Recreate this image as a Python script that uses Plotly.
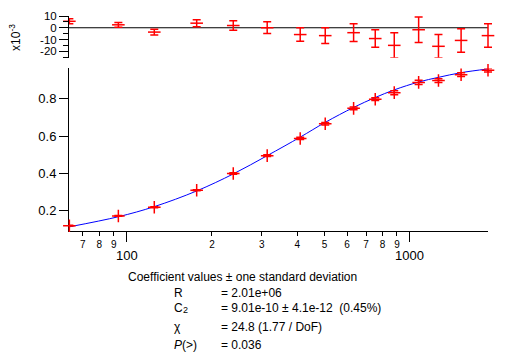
import plotly.graph_objects as go

# ---- data ----
freq = [62.7, 93.4, 125.1, 176.6, 237.8, 313.4, 409.9, 502.4, 632.8, 754.6, 880.8, 1074, 1262, 1517, 1888]
amp = [0.120, 0.172, 0.219, 0.310, 0.399, 0.495, 0.587, 0.666, 0.748, 0.797, 0.832, 0.887, 0.897, 0.928, 0.952]
fit = [0.114, 0.168, 0.222, 0.306, 0.397, 0.495, 0.594, 0.673, 0.753, 0.806, 0.847, 0.889, 0.914, 0.939, 0.959]
resid = [5.5, 2.5, -3.7, 3.9, 1.9, 0.0, -5.8, -6.7, -4.2, -9.2, -15.0, -1.7, -15.8, -10.8, -6.7]   # x10^-3
err = [2.2, 2.0, 2.5, 3.0, 4.0, 5.0, 5.8, 6.7, 7.5, 7.5, 10.8, 10.8, 10.0, 10.0, 10.0]          # x10^-3

minor_vals = [70, 80, 90, 200, 300, 400, 500, 600, 700, 800, 900]
minor_text = ["7", "8", "9", "2", "3", "4", "5", "6", "7", "8", "9"]
major_vals = [100, 1000]
major_text = ["100", "1000"]
main_yticks = [0.2, 0.4, 0.6, 0.8]
res_yticks = [10, 0, -10, -20]
res_minor = [5, -5, -15, -25]

coef_title = "Coefficient values ± one standard deviation"
coef_names = ["R", "C", "χ", "<i>P</i>(>)"]
coef_vals = ["= 2.01e+06", "= 9.01e-10 ± 4.1e-12  (0.45%)", "= 24.8 (1.77 / DoF)", "= 0.036"]

FONT = "Liberation Sans, Arial, sans-serif"
OFF = 8                      # default page body margin
WIN_W, WIN_H = 521, 364
W, H = WIN_W - OFF, WIN_H - OFF
# axis box in window pixels; drawing area extends a little to the right so end marks are not clipped
X0, XAX, X1, Y0, Y1 = 69, 488, 500, 15.5, 231
L, R, T, B = X0 - OFF, WIN_W - X1, Y0 - OFF, WIN_H - Y1
PW, PH = X1 - X0, Y1 - Y0
XR = [1.796, 3.276]
XR_EXT = [XR[0], XR[0] + (XR[1] - XR[0]) * PW / (XAX - X0)]


def xp(px):
    return (px - X0) / PW


def yp(py):
    return (Y1 - py) / PH


fig = go.Figure()

# fit curve
fig.add_trace(go.Scatter(x=freq, y=fit, mode="lines", line=dict(color="blue", width=1, shape="spline"),
                         xaxis="x2", yaxis="y", cliponaxis=False, hoverinfo="skip"))
# data
fig.add_trace(go.Scatter(x=freq, y=amp, mode="markers",
                         marker=dict(symbol="cross-thin", size=9, line=dict(color="red", width=1.5)),
                         error_y=dict(type="data", array=[e / 1000 for e in err], color="red", thickness=1.5, width=4),
                         xaxis="x2", yaxis="y", cliponaxis=False))
# residuals
fig.add_trace(go.Scatter(x=freq, y=resid, mode="markers",
                         marker=dict(symbol="line-ew", size=9, line=dict(color="red", width=1.5)),
                         error_y=dict(type="data", array=err, color="red", thickness=1.5, width=4),
                         xaxis="x2", yaxis="y2", cliponaxis=False))

main_top = yp(68)
res_bottom = yp(57.3)

fig.update_layout(
    width=W, height=H,
    margin=dict(l=L, r=R, t=T, b=B, autoexpand=False),
    paper_bgcolor="white", plot_bgcolor="white",
    showlegend=False,
    font=dict(family=FONT, color="black", size=12),
    xaxis=dict(type="log", range=XR, anchor="y", domain=[0, xp(XAX)], automargin=False,
               showline=True, linecolor="black", linewidth=1, showgrid=False, zeroline=False,
               tickmode="array", tickvals=minor_vals, ticktext=minor_text,
               ticks="outside", ticklen=4, tickwidth=1, tickcolor="black",
               tickfont=dict(size=10, family=FONT),
               minor=dict(tickmode="array", tickvals=major_vals, ticks="outside", ticklen=10,
                          tickwidth=1, tickcolor="black", showgrid=False)),
    yaxis=dict(range=[0.0916, 0.962], domain=[0, main_top], anchor="x", automargin=False,
               showline=True, linecolor="black", linewidth=1, showgrid=False, zeroline=False,
               tickmode="array", tickvals=main_yticks, ticktext=["0.2", "0.4", "0.6", "0.8"],
               ticks="outside", ticklen=9, tickwidth=1, tickcolor="black",
               tickfont=dict(size=13, family=FONT)),
    xaxis2=dict(type="log", range=XR_EXT, anchor="y2", domain=[0, 1], visible=False, automargin=False),
    yaxis2=dict(range=[-25.5, 10], domain=[res_bottom, 1], anchor="x", automargin=False,
                showline=True, linecolor="black", linewidth=1, showgrid=False, zeroline=False,
                tickmode="array", tickvals=res_yticks, ticktext=[str(v) for v in res_yticks],
                ticks="outside", ticklen=9, tickwidth=1, tickcolor="black",
                tickfont=dict(size=11.5, family=FONT),
                minor=dict(tickmode="array", tickvals=res_minor, ticks="outside", ticklen=5,
                           tickwidth=1, tickcolor="black", showgrid=False)),
    shapes=[dict(type="line", xref="x domain", yref="y2", x0=0, x1=1, y0=0, y1=0,
                 line=dict(color="black", width=1), layer="below")],
)

ann = []
# major decade labels on the x axis
for v, t in zip(major_vals, major_text):
    ann.append(dict(x=[2, 3][major_vals.index(v)], y=yp(255.5), xref="x", yref="paper", text=t,
                    showarrow=False, xanchor="center", yanchor="middle", font=dict(size=13, family=FONT)))
# residual axis multiplier
ann.append(dict(x=xp(15.5), y=yp(37), xref="paper", yref="paper", text="x10<sup>-3</sup>", textangle=-90,
                showarrow=False, xanchor="center", yanchor="middle", font=dict(size=12, family=FONT)))
# coefficient block
ann.append(dict(x=xp(126), y=yp(277), xref="paper", yref="paper", text=coef_title, showarrow=False,
                xanchor="left", yanchor="middle", font=dict(size=12, family=FONT)))
rows_y = [293.5, 308, 327.5, 345]
for name, val, ry in zip(coef_names, coef_vals, rows_y):
    ann.append(dict(x=xp(172), y=yp(ry), xref="paper", yref="paper", text=name, showarrow=False,
                    xanchor="left", yanchor="middle", font=dict(size=12, family=FONT)))
    ann.append(dict(x=xp(219), y=yp(ry), xref="paper", yref="paper", text=val, showarrow=False,
                    xanchor="left", yanchor="middle", font=dict(size=12, family=FONT)))
ann.append(dict(x=xp(181), y=yp(310), xref="paper", yref="paper", text="2", showarrow=False,
                xanchor="left", yanchor="middle", font=dict(size=9, family=FONT)))
fig.update_layout(annotations=ann)

fig.write_html("out.html")
